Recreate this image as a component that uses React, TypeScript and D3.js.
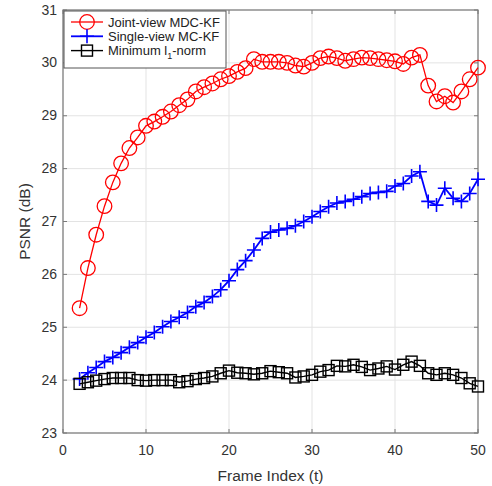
import React from "react";
import * as d3 from "d3";

const frames = d3.range(2, 51);
const jointView = [25.36, 26.12, 26.75, 27.29, 27.74, 28.10, 28.39, 28.59, 28.81, 28.89, 28.98, 29.08, 29.20, 29.31, 29.46, 29.54, 29.61, 29.69, 29.75, 29.83, 29.90, 30.07, 30.02, 30.02, 30.02, 30.00, 29.95, 29.93, 30.00, 30.09, 30.12, 30.09, 30.04, 30.07, 30.10, 30.09, 30.07, 30.05, 30.03, 29.98, 30.10, 30.15, 29.57, 29.27, 29.37, 29.25, 29.46, 29.69, 29.91];
const singleView = [24.02, 24.14, 24.24, 24.35, 24.43, 24.52, 24.62, 24.71, 24.81, 24.90, 25.01, 25.11, 25.19, 25.28, 25.39, 25.47, 25.58, 25.71, 25.88, 26.09, 26.26, 26.46, 26.68, 26.80, 26.84, 26.87, 26.92, 27.00, 27.09, 27.19, 27.28, 27.35, 27.38, 27.42, 27.47, 27.53, 27.55, 27.57, 27.67, 27.72, 27.86, 27.94, 27.38, 27.31, 27.63, 27.44, 27.38, 27.53, 27.80];
const minL1 = [23.93, 23.96, 23.99, 24.02, 24.04, 24.04, 24.04, 24.00, 23.99, 24.00, 24.00, 24.00, 23.96, 23.98, 24.02, 24.04, 24.07, 24.13, 24.18, 24.14, 24.13, 24.11, 24.13, 24.17, 24.15, 24.13, 24.05, 24.07, 24.10, 24.16, 24.19, 24.27, 24.26, 24.29, 24.25, 24.19, 24.22, 24.26, 24.20, 24.29, 24.35, 24.27, 24.13, 24.10, 24.13, 24.10, 24.04, 23.94, 23.88];
const xTicks = [0, 10, 20, 30, 40, 50];
const yTicks = [23, 24, 25, 26, 27, 28, 29, 30, 31];

const W = 492, H = 486;
const L = 63, R = 478, T = 10, B = 433;
const font = "'Liberation Sans', Arial, sans-serif";

export default function App() {
  const x = d3.scaleLinear().domain([0, 50]).range([L, R]);
  const y = d3.scaleLinear().domain([23, 31]).range([B, T]);
  const line = d3.line<[number, number]>().x(d => x(d[0])).y(d => y(d[1]));
  const pts = (vals: number[]) => frames.map((f, i) => [f, vals[i]] as [number, number]);

  const circle = (cx: number, cy: number, k: string) => (
    <circle key={k} cx={cx} cy={cy} r={7.3} fill="none" stroke="#ff0000" strokeWidth={1.3} />
  );
  const plus = (cx: number, cy: number, k: string) => (
    <path key={k} d={`M${cx - 7},${cy}H${cx + 7}M${cx},${cy - 7}V${cy + 7}`} stroke="#0000ff" strokeWidth={1.6} fill="none" />
  );
  const square = (cx: number, cy: number, k: string) => (
    <rect key={k} x={cx - 5.5} y={cy - 5.5} width={11} height={11} fill="none" stroke="#000" strokeWidth={1.4} />
  );

  const series = [
    { vals: jointView, color: "#ff0000", w: 1.3, marker: circle },
    { vals: singleView, color: "#0000ff", w: 1.8, marker: plus },
    { vals: minL1, color: "#000000", w: 1.4, marker: square },
  ];

  const legendItems = [
    { label: <>Joint-view MDC-KF</>, color: "#ff0000", w: 1.3, marker: circle },
    { label: <>Single-view MC-KF</>, color: "#0000ff", w: 1.8, marker: plus },
    { label: <>Minimum l<tspan dy={4} fontSize={9}>1</tspan><tspan dy={-4}>-norm</tspan></>, color: "#000", w: 1.4, marker: square },
  ];

  return (
    <svg width={W} height={H} style={{ position: "absolute", left: 0, top: 0, background: "#fff" }} fontFamily={font}>
      <rect x={0} y={0} width={W} height={H} fill="#fff" />
      {xTicks.map(t => (
        <line key={"gx" + t} x1={x(t)} x2={x(t)} y1={T} y2={B} stroke="#e3e3e3" strokeWidth={1} />
      ))}
      {yTicks.map(t => (
        <line key={"gy" + t} x1={L} x2={R} y1={y(t)} y2={y(t)} stroke="#e3e3e3" strokeWidth={1} />
      ))}
      <rect x={L} y={T} width={R - L} height={B - T} fill="none" stroke="#7a7a7a" strokeWidth={1.2} />
      {xTicks.map(t => (
        <g key={"tx" + t}>
          <line x1={x(t)} x2={x(t)} y1={B} y2={B - 4} stroke="#7a7a7a" />
          <line x1={x(t)} x2={x(t)} y1={T} y2={T + 4} stroke="#7a7a7a" />
          <text x={x(t)} y={455} textAnchor="middle" fontSize={14} fill="#333">{t}</text>
        </g>
      ))}
      {yTicks.map(t => (
        <g key={"ty" + t}>
          <line x1={L} x2={L + 4} y1={y(t)} y2={y(t)} stroke="#7a7a7a" />
          <line x1={R} x2={R - 4} y1={y(t)} y2={y(t)} stroke="#7a7a7a" />
          <text x={57} y={y(t) + 4.5} textAnchor="end" fontSize={14} fill="#333">{t}</text>
        </g>
      ))}
      <text x={(L + R) / 2} y={481} textAnchor="middle" fontSize={15.5} fill="#333">Frame Index (t)</text>
      <text transform={`translate(30,${(T + B) / 2}) rotate(-90)`} textAnchor="middle" fontSize={15.5} fill="#333">PSNR (dB)</text>
      {series.map((s, si) => (
        <g key={"s" + si}>
          <path d={line(pts(s.vals)) || ""} fill="none" stroke={s.color} strokeWidth={s.w} />
          {pts(s.vals).map((p, i) => s.marker(x(p[0]), y(p[1]), `m${si}-${i}`))}
        </g>
      ))}
      <rect x={64} y={11} width={162} height={57} fill="#fff" stroke="#555" strokeWidth={1} />
      {legendItems.map((it, i) => {
        const ly = 22 + i * 14.3;
        return (
          <g key={"l" + i}>
            <line x1={71} x2={103} y1={ly} y2={ly} stroke={it.color} strokeWidth={it.w} />
            {it.marker(87, ly, "lm" + i)}
            <text x={108} y={ly + 4.5} fontSize={13} fill="#222">{it.label}</text>
          </g>
        );
      })}
    </svg>
  );
}
